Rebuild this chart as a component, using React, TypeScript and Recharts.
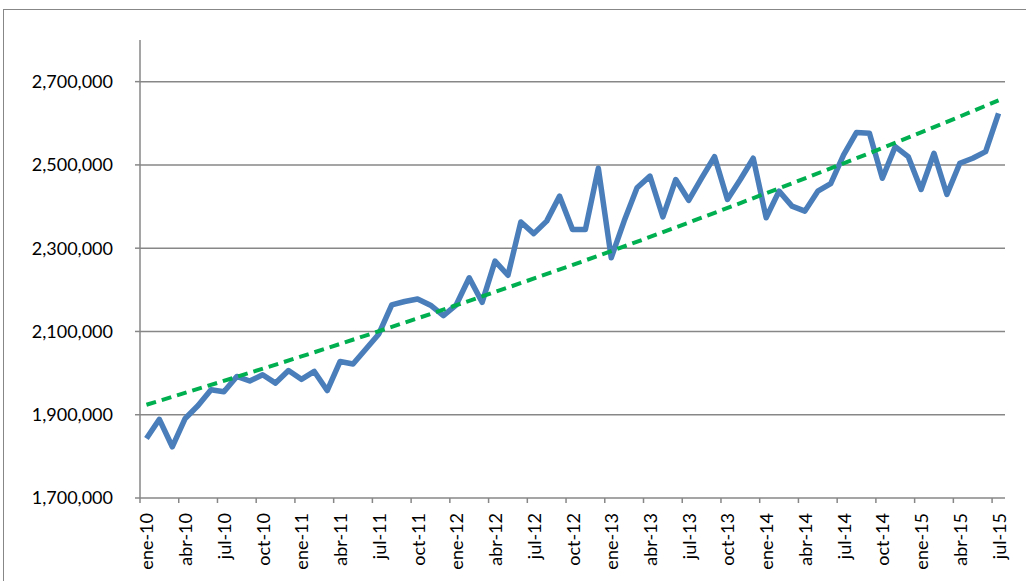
import React from "react";
import { LineChart, Line, XAxis, YAxis, ReferenceLine } from "recharts";

// Quarterly tick labels (every 3 months, starting ene-10)
const tickLabels = [
  "ene-10", "abr-10", "jul-10", "oct-10",
  "ene-11", "abr-11", "jul-11", "oct-11",
  "ene-12", "abr-12", "jul-12", "oct-12",
  "ene-13", "abr-13", "jul-13", "oct-13",
  "ene-14", "abr-14", "jul-14", "oct-14",
  "ene-15", "abr-15", "jul-15",
];

// Monthly values ene-10 .. jul-15
const values = [
  1843000, 1889000, 1823000, 1891000, 1922000, 1960000, 1955000, 1992000, 1981000, 1996000, 1976000, 2006000,
  1985000, 2004000, 1958000, 2028000, 2022000, 2058000, 2094000, 2164000, 2172000, 2178000, 2163000, 2138000,
  2164000, 2229000, 2170000, 2269000, 2235000, 2363000, 2335000, 2365000, 2425000, 2345000, 2345000, 2492000,
  2277000, 2365000, 2445000, 2473000, 2375000, 2465000, 2415000, 2468000, 2520000, 2417000, 2465000, 2516000,
  2373000, 2437000, 2401000, 2389000, 2437000, 2455000, 2524000, 2578000, 2576000, 2468000, 2544000, 2520000,
  2441000, 2528000, 2429000, 2504000, 2516000, 2532000, 2624000,
];

// Trend line values at a few months (index -> value)
const trendIdx = [0, 12, 24, 36, 48, 60, 66];
const trendVals = [1924000, 2040000, 2163000, 2293000, 2432000, 2578000, 2655000];

const yTicks = [1700000, 1900000, 2100000, 2300000, 2500000, 2700000];
const xTicks = tickLabels.map((_, k) => k * 3 - 0.5);

const data = values.map((v, i) => {
  const t = trendIdx.indexOf(i);
  return { i, value: v, trend: t >= 0 ? trendVals[t] : null };
});

const W = 1026;
const H = 581;
const X_H = 83;
const M = { top: 40, right: 21, bottom: 0, left: 0 };
const Y_W = 140;
const HALF = (W - M.right - Y_W) / values.length / 2;
const GRAY = "#878787";
const FONT = "Lato, 'Noto Sans', sans-serif";

const XTick = (props: any) => {
  const { x, y, payload } = props;
  const k = Math.round((payload.value + 0.5) / 3);
  const label = tickLabels[k];
  return (
    <g>
      <line x1={x} y1={y} x2={x} y2={y + 5} stroke={GRAY} strokeWidth={1.5} />
      <text
        x={0}
        y={0}
        transform={`translate(${x + HALF},${y + 15}) rotate(-90)`}
        textAnchor="end"
        dominantBaseline="central"
        fontFamily={FONT}
        fontSize={18}
        fill="#000"
      >
        {label}
      </text>
    </g>
  );
};

export default function App() {
  return (
    <div
      style={{
        position: "absolute",
        left: 0,
        top: 0,
        width: W,
        height: H,
        overflow: "hidden",
        background: "#fff",
      }}
    >
      <div
        style={{
          position: "absolute",
          left: 3,
          top: 9,
          width: 1200,
          height: 800,
          border: `1.5px solid ${GRAY}`,
          boxSizing: "border-box",
        }}
      />
      <div style={{ position: "absolute", left: 0, top: 0 }}>
        <LineChart width={W} height={H} data={data} margin={M}>
          {yTicks.slice(1).map((v) => (
            <ReferenceLine key={v} y={v} stroke={GRAY} strokeWidth={1.5} ifOverflow="hidden" />
          ))}
          <XAxis
            dataKey="i"
            type="number"
            domain={[-0.5, values.length - 0.5]}
            ticks={xTicks}
            interval={0}
            tick={<XTick />}
            tickLine={false}
            tickSize={0}
            tickMargin={0}
            height={X_H}
            axisLine={{ stroke: GRAY, strokeWidth: 1.5 }}
          />
          <YAxis
            type="number"
            domain={[1700000, 2800000]}
            ticks={yTicks}
            interval={0}
            width={Y_W}
            tickSize={5}
            tickMargin={22}
            tickLine={{ stroke: GRAY, strokeWidth: 1.5 }}
            axisLine={{ stroke: GRAY, strokeWidth: 1.5 }}
            tickFormatter={(v: number) => v.toLocaleString("en-US")}
            tick={{ fontFamily: FONT, fontSize: 18, fill: "#000" }}
          />
          <Line
            dataKey="value"
            type="linear"
            stroke="#4A7EBB"
            strokeWidth={5.5}
            dot={false}
            activeDot={false}
            strokeLinejoin="round"
            isAnimationActive={false}
          />
          <Line
            dataKey="trend"
            type="monotone"
            connectNulls
            stroke="#00B050"
            strokeWidth={4}
            strokeDasharray="10 6"
            dot={false}
            activeDot={false}
            isAnimationActive={false}
          />
        </LineChart>
      </div>
    </div>
  );
}
